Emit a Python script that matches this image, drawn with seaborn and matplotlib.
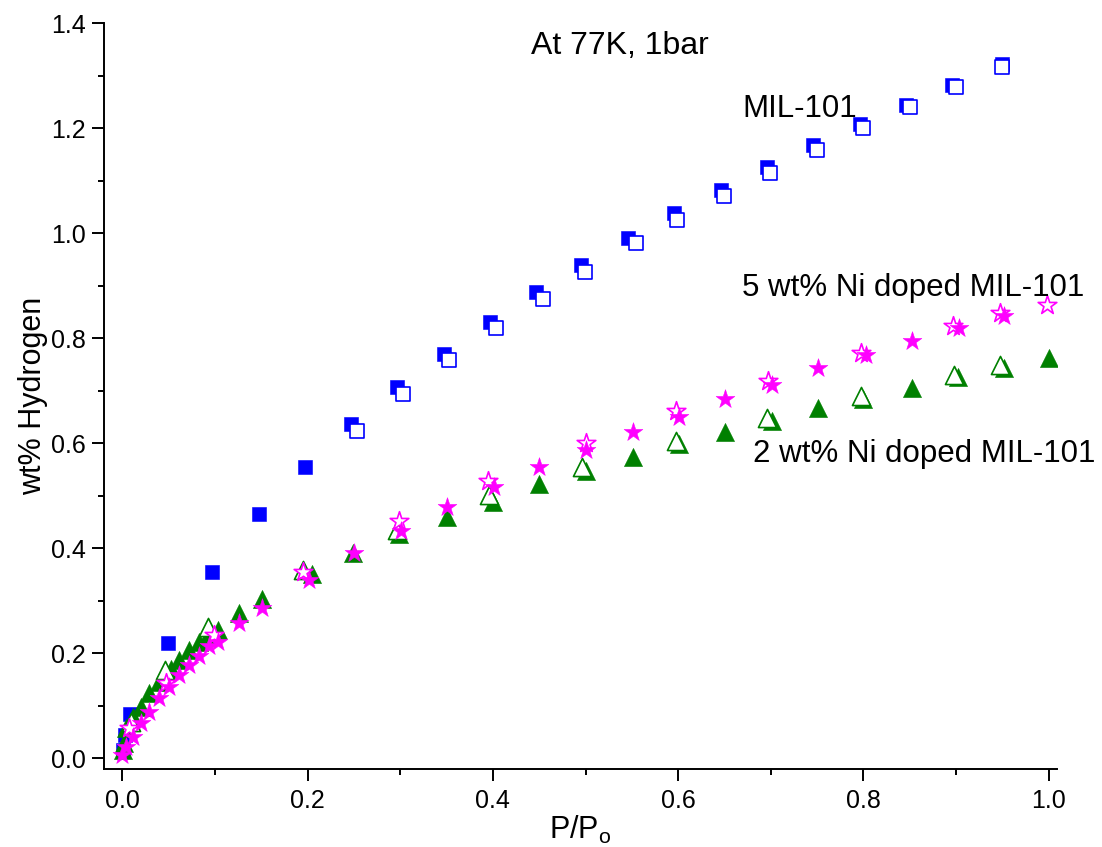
import matplotlib
matplotlib.use("Agg")
import matplotlib.pyplot as plt
import seaborn as sns
from matplotlib.ticker import MultipleLocator

# ---- data ----
mil_ads_x = [0.001, 0.003, 0.008, 0.049, 0.097, 0.148, 0.197, 0.247, 0.297, 0.347, 0.397,
             0.447, 0.495, 0.546, 0.596, 0.646, 0.696, 0.746, 0.796, 0.846, 0.896, 0.950]
mil_ads_y = [0.015, 0.045, 0.084, 0.219, 0.354, 0.465, 0.555, 0.637, 0.708, 0.771, 0.832,
             0.888, 0.940, 0.992, 1.038, 1.083, 1.126, 1.169, 1.209, 1.244, 1.282, 1.322]

mil_des_x = [0.253, 0.303, 0.353, 0.403, 0.454, 0.499, 0.554, 0.599, 0.649, 0.699, 0.750,
             0.800, 0.850, 0.900, 0.950]
mil_des_y = [0.623, 0.694, 0.759, 0.819, 0.875, 0.926, 0.981, 1.025, 1.071, 1.115, 1.159,
             1.201, 1.241, 1.279, 1.317]

ni2_ads_x = [0.001, 0.002, 0.004, 0.011, 0.020, 0.029, 0.040, 0.052, 0.061, 0.072, 0.083,
             0.093, 0.103, 0.126, 0.151, 0.205, 0.249, 0.299, 0.350, 0.400, 0.450, 0.501,
             0.551, 0.601, 0.651, 0.701, 0.751, 0.800, 0.852, 0.902, 0.952, 1.000]
ni2_ads_y = [0.015, 0.030, 0.057, 0.079, 0.098, 0.124, 0.146, 0.171, 0.187, 0.206, 0.222,
             0.234, 0.244, 0.276, 0.303, 0.352, 0.391, 0.427, 0.459, 0.489, 0.522, 0.548,
             0.574, 0.599, 0.622, 0.643, 0.667, 0.684, 0.706, 0.726, 0.744, 0.762]

ni2_des_x = [0.009, 0.046, 0.092, 0.195, 0.296, 0.396, 0.496, 0.598, 0.696, 0.797, 0.898, 0.948]
ni2_des_y = [0.070, 0.168, 0.251, 0.358, 0.435, 0.502, 0.555, 0.605, 0.648, 0.691, 0.731, 0.749]

ni5_ads_x = [0.000, 0.004, 0.011, 0.020, 0.029, 0.040, 0.050, 0.061, 0.072, 0.083, 0.094,
             0.103, 0.126, 0.151, 0.201, 0.250, 0.301, 0.350, 0.401, 0.450, 0.501, 0.551,
             0.601, 0.651, 0.701, 0.751, 0.803, 0.852, 0.903, 0.952]
ni5_ads_y = [0.006, 0.022, 0.041, 0.067, 0.089, 0.114, 0.136, 0.159, 0.178, 0.194, 0.213,
             0.222, 0.257, 0.286, 0.340, 0.391, 0.433, 0.479, 0.516, 0.555, 0.587, 0.621,
             0.651, 0.684, 0.711, 0.743, 0.768, 0.795, 0.819, 0.842]

ni5_des_x = [0.007, 0.047, 0.099, 0.195, 0.299, 0.395, 0.500, 0.598, 0.697, 0.797, 0.897,
             0.948, 0.998]
ni5_des_y = [0.057, 0.143, 0.235, 0.354, 0.452, 0.528, 0.600, 0.662, 0.719, 0.773, 0.823,
             0.848, 0.863]

annotations = ["At 77K, 1bar", "MIL-101", "5 wt% Ni doped MIL-101", "2 wt% Ni doped MIL-101"]
x_label = "P/P$_o$"
y_label = "wt% Hydrogen"

# ---- styling ----
sns.set_theme(style="ticks")
plt.rcParams["font.family"] = ["Liberation Sans", "DejaVu Sans"]
plt.rcParams["mathtext.default"] = "regular"

BLUE = "#0000FF"
GREEN = "#008000"
MAGENTA = "#FF00FF"

fig, ax = plt.subplots(figsize=(11.02, 8.47), dpi=100)
fig.subplots_adjust(left=104 / 1102, right=1057 / 1102, bottom=78 / 847, top=823.5 / 847)


def filled(x, y, marker, size, color):
    sns.scatterplot(x=x, y=y, marker=marker, s=size, color=color, edgecolor=color,
                    linewidth=0.4, ax=ax, zorder=3)


def hollow(x, y, marker, size, color):
    sns.scatterplot(x=x, y=y, marker=marker, s=size, color="white", edgecolor=color,
                    linewidth=1.2, ax=ax, zorder=3)


filled(mil_ads_x, mil_ads_y, "s", 100, BLUE)
hollow(mil_des_x, mil_des_y, "s", 100, BLUE)
filled(ni2_ads_x, ni2_ads_y, "^", 170, GREEN)
hollow(ni2_des_x, ni2_des_y, "^", 170, GREEN)
hollow(ni5_des_x, ni5_des_y, "*", 200, MAGENTA)
filled(ni5_ads_x, ni5_ads_y, "*", 200, MAGENTA)

ax.set_xlim(-0.0198, 1.009)
ax.set_ylim(-0.0204, 1.4)

ax.xaxis.set_major_locator(MultipleLocator(0.2))
ax.xaxis.set_minor_locator(MultipleLocator(0.1))
ax.yaxis.set_major_locator(MultipleLocator(0.2))
ax.yaxis.set_minor_locator(MultipleLocator(0.1))

ax.tick_params(axis="both", which="major", direction="out", length=8.5, width=1.4,
               labelsize=18, color="black", labelcolor="black")
ax.tick_params(axis="both", which="minor", direction="out", length=4.3, width=1.4,
               color="black")
ax.tick_params(axis="x", which="major", pad=6)
ax.tick_params(axis="y", which="major", pad=4.8)

sns.despine(ax=ax)
for side in ("left", "bottom"):
    ax.spines[side].set_linewidth(1.4)
    ax.spines[side].set_color("black")

ax.set_xlabel(x_label, fontsize=22, labelpad=0.5, color="black")
ax.set_ylabel(y_label, fontsize=22, labelpad=2, color="black")

ax.text(0.441, 1.341, annotations[0], fontsize=23, ha="left", va="baseline", color="black")
ax.text(0.669, 1.221, annotations[1], fontsize=22.5, ha="left", va="baseline", color="black")
ax.text(0.669, 0.881, annotations[2], fontsize=22.5, ha="left", va="baseline", color="black")
ax.text(0.681, 0.565, annotations[3], fontsize=22.5, ha="left", va="baseline", color="black")

fig.savefig("out.png", dpi=100)
